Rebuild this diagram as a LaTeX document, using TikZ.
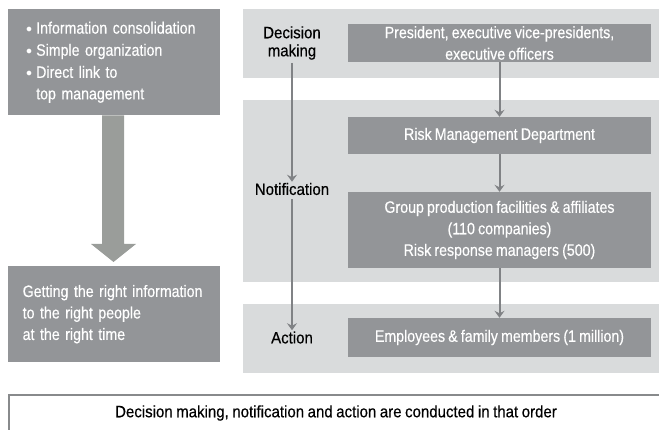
\documentclass[tikz,border=0pt]{standalone}
\usepackage{fontspec}
\setmainfont[FakeStretch=0.86,WordSpace=0.8,FakeBold=0.35]{Liberation Sans}
\newfontfamily\blackfont[FakeStretch=0.91,WordSpace=0.85,FakeBold=0.4]{Liberation Sans}
\usetikzlibrary{arrows.meta}
\definecolor{darkg}{HTML}{939598}
\definecolor{lightg}{HTML}{D9DBDC}
\definecolor{arrowg}{HTML}{808285}
\definecolor{bigarrow}{HTML}{9A9D9A}
\definecolor{frameg}{HTML}{888A8C}
\tikzset{
  darkbox/.style={fill=darkg, draw=none, text=white, inner sep=0pt, font=\fontsize{16.5}{21.5}\selectfont},
  panel/.style={fill=lightg, draw=none},
  lbl/.style={text=black, align=center, font=\blackfont\fontsize{16.5}{18}\selectfont},
  flow/.style={draw=arrowg, line width=2pt, -{Stealth[length=7pt,width=10pt,inset=2.5pt]}},
}
\begin{document}
\begin{tikzpicture}[x=1pt,y=-1pt]
\useasboundingbox (0,0) rectangle (659,430);
% left side
\node[darkbox, anchor=north west, minimum width=212, minimum height=106, text width=192, align=left] (adv) at (8,9)
  {\hspace*{8pt}\begin{tabular}{@{}l@{\hspace{4pt}}l@{}}\fontsize{12}{12}\selectfont\raisebox{1.5pt}{$\bullet$} & Information consolidation\\[0.6pt]
   \fontsize{12}{12}\selectfont\raisebox{1.5pt}{$\bullet$} & Simple organization\\[0.6pt]
   \fontsize{12}{12}\selectfont\raisebox{1.5pt}{$\bullet$} & Direct link to\\
   & top management\end{tabular}};
\node[darkbox, anchor=north west, minimum width=212, minimum height=96, text width=195, align=left] (goal) at (8,266)
  {\hspace*{6pt}\parbox[t]{190pt}{\raggedright Getting the right information\\to the right people\\at the right time}};
\coordinate (s1) at (102,115);
\coordinate (s2) at (124,244);
\fill[bigarrow] (adv.south -| s1) -- (s1 |- s2) -- (91,244) -- (113.5,262) -- (136,244) -- (s2) -- (adv.south -| s2) -- cycle;
% right panels
\fill[panel] (243,9) rectangle (659,78);
\fill[panel] (243,100) rectangle (659,282);
\fill[panel] (243,304) rectangle (659,373);
\node[darkbox, minimum width=303, minimum height=38, align=center] (pres) at (499.5,43)
  {President, executive vice-presidents,\\executive officers};
\node[darkbox, minimum width=303, minimum height=37, align=center] (rmd) at (499.5,135.5)
  {Risk Management Department};
\node[darkbox, minimum width=303, minimum height=76, align=center] (grp) at (499.5,230)
  {Group production facilities \& affiliates\\(110 companies)\\Risk response managers (500)};
\node[darkbox, minimum width=303, minimum height=39, align=center] (emp) at (499.5,337.5)
  {Employees \& family members (1 million)};
\draw[flow] (pres) -- (rmd);
\draw[flow] (rmd) -- (grp);
\draw[flow] (grp) -- (emp);
% stage labels
\node[lbl, inner sep=1pt] (dm) at (292,43) {Decision\\making};
\node[lbl, inner sep=1pt] (nt) at (292,189) {Notification};
\node[lbl, inner sep=1pt] (ac) at (292,337.5) {Action};
\draw[flow] (dm.south) ++(0,2) coordinate (d1) (d1) -- (nt.north);
\draw[flow] (nt.south) ++(0,3) coordinate (n1) (n1) -- (ac.north);
% bottom frame
\coordinate (fb) at (9,432);
\coordinate (fr) at (662,395);
\draw[draw=frameg, line width=2pt] (fb) -- (fb |- fr) -- (fr);
\node[text=black, font=\blackfont\fontsize{16.5}{18}\selectfont] (note) at (336,413)
  {Decision making, notification and action are conducted in that order};
\end{tikzpicture}
\end{document}
